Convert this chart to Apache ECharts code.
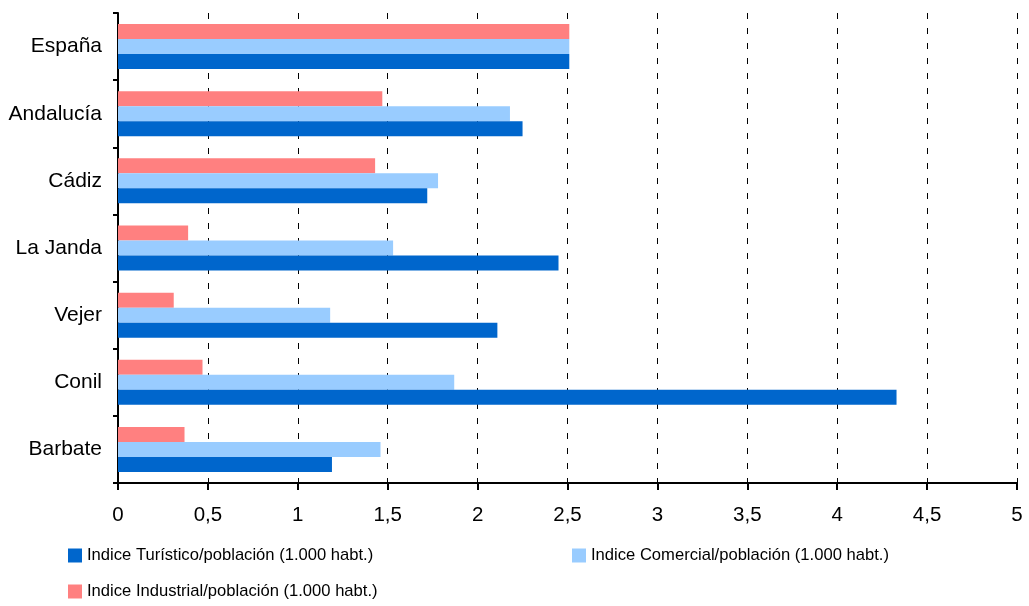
<!DOCTYPE html>
<html><head><meta charset="utf-8">
<script src="https://cdn.jsdelivr.net/npm/echarts@6/dist/echarts.min.js"></script>
<style>html,body{margin:0;padding:0;background:#fff}#c{width:1029px;height:606px}</style>
</head><body><div id="c"></div>
<script>
const categories = ["España","Andalucía","Cádiz","La Janda","Vejer","Conil","Barbate"];
const seriesNames = ["Indice Turístico/población (1.000 habt.)","Indice Comercial/población (1.000 habt.)","Indice Industrial/población (1.000 habt.)"];
const turistico = [2.51,2.25,1.72,2.45,2.11,4.33,1.19];
const comercial = [2.51,2.18,1.78,1.53,1.18,1.87,1.46];
const industrial = [2.51,1.47,1.43,0.39,0.31,0.47,0.37];
const colors = {tur:"#0066CC",com:"#99CCFF",ind:"#FF8080"};

const chart = echarts.init(document.getElementById('c'));
const font = "Liberation Sans, Arial, sans-serif";
const legendBase = {padding:0,itemWidth:14,itemHeight:14,itemGap:0,icon:'rect',
  textStyle:{fontFamily:font,fontSize:16.6,color:'#000',padding:[0,0,0,0]}};
chart.setOption({
  animation:false,
  grid:{left:118,right:12,top:13,bottom:123,containLabel:false},
  legend:[
    Object.assign({left:68,top:547,data:[seriesNames[0]]},legendBase),
    Object.assign({left:572,top:547,data:[seriesNames[1]]},legendBase),
    Object.assign({left:68,top:583,data:[seriesNames[2]]},legendBase)
  ],
  xAxis:{type:'value',min:0,max:5,interval:0.5,
    axisLine:{show:true,lineStyle:{color:'#000',width:2}},
    axisTick:{show:true,length:7,lineStyle:{color:'#000',width:2}},
    axisLabel:{fontFamily:font,fontSize:20.5,color:'#000',margin:22,formatter:v=>String(v).replace('.',',')},
    splitLine:{show:true,lineStyle:{color:'#000',type:[6,9],width:1}}
  },
  yAxis:{type:'category',data:categories,inverse:true,
    axisLine:{show:true,lineStyle:{color:'#000',width:2}},
    axisTick:{show:true,length:5,lineStyle:{color:'#000',width:2}},
    axisLabel:{fontFamily:font,fontSize:21,color:'#000',margin:16}
  },
  series:[
    {name:seriesNames[2],type:'bar',data:industrial,itemStyle:{color:colors.ind},barGap:'0%',barCategoryGap:'33%'},
    {name:seriesNames[1],type:'bar',data:comercial,itemStyle:{color:colors.com},barGap:'0%',barCategoryGap:'33%'},
    {name:seriesNames[0],type:'bar',data:turistico,itemStyle:{color:colors.tur},barGap:'0%',barCategoryGap:'33%'}
  ]
});
</script></body></html>
